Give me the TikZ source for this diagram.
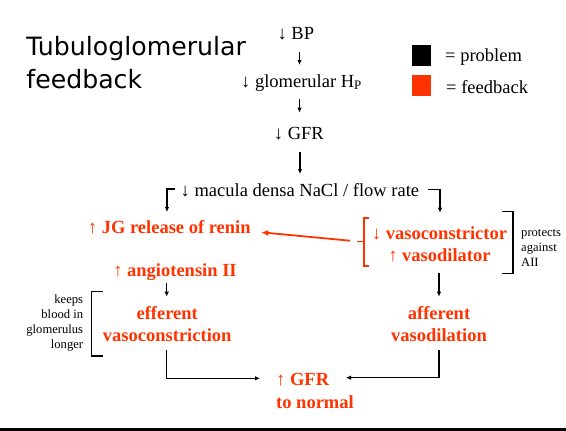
\documentclass[tikz,border=0pt]{standalone}
\usepackage{fontspec}
\setmainfont{Liberation Serif}
\newfontfamily\titlefont{DejaVu Sans}
\usetikzlibrary{arrows.meta,calc}
\definecolor{fbred}{RGB}{255,51,0}
\begin{document}
\begin{tikzpicture}[x=1pt,y=-1pt,
  body/.style={font=\fontsize{18.5}{22.4}\selectfont, inner sep=0pt, anchor=base, align=center},
  fb/.style={body, text=fbred, font=\fontsize{18.5}{22.4}\selectfont\bfseries},
  note/.style={font=\fontsize{12.6}{15}\selectfont, inner sep=0pt},
  arr/.style={draw=black, line width=1.2pt, -{Latex[length=5pt,width=4.5pt]}},
  redarr/.style={draw=fbred, line width=1.8pt, -{Latex[length=7pt,width=6pt]}},
  brk/.style={draw=black, line width=1.3pt},
  rbrk/.style={draw=fbred, line width=1.3pt},
  sq/.style={minimum width=19pt, minimum height=21pt, inner sep=0pt, anchor=north west}]
\useasboundingbox (0,0) rectangle (566,431);
\fill[black] (0,428) rectangle (566,431);

% title (base anchor of a multi-line node = last line)
\node[font=\titlefont\fontsize{25.2}{33.3}\selectfont, inner sep=0pt, anchor=base west, align=left] (title) at (26.2,88.3) {Tubuloglomerular\\feedback};

% legend
\node[sq, fill=black] (sqp) at (411.7,45) {};
\node[sq, fill=fbred] (sqf) at (411.7,75) {};
\node[body, anchor=base west] (lp) at (445,61.7) {= problem};
\node[body, anchor=base west] (lf) at (446,93.3) {= feedback};

% main chain
\coordinate (ax) at (299.5,0);
\node[body] (bp) at (295.8,39.3) {↓ BP};
\node[body] (glom) at (301.5,87.3) {↓ glomerular H\textsubscript{P}};
\node[body] (gfr) at (298.9,139.3) {↓ GFR};
\node[body] (mac) at (299.9,196) {↓ macula densa NaCl / flow rate};

\node[fb] (jg) at (169.3,233.3) {↑ JG release of renin};
\node[fb] (vc) at (439.5,261.7) {↓ vasoconstrictor\\↑ vasodilator};
\node[fb] (ang) at (175,276) {↑ angiotensin II};
\node[fb] (eff) at (167.2,341.7) {efferent\\vasoconstriction};
\node[fb] (aff) at (439,341.7) {afferent\\vasodilation};
\node[fb, anchor=base west, align=left] (gn) at (276,408.3) {↑ GFR\\to normal};

\node[note, anchor=base west, align=left] (prot) at (521,266.5) {protects\\against\\AII};
\node[note, anchor=base east, align=right] (keep) at (83.3,348.3) {keeps\\blood in\\glomerulus\\longer};

% connectors
\draw[arr] ($(bp.base -| ax)+(0,12.7)$) -- ($(glom.base -| ax)+(0,-22.3)$);
\draw[arr] ($(glom.base -| ax)+(0,11.7)$) -- ($(gfr.base -| ax)+(0,-26.6)$);
\draw[arr] ($(gfr.base -| ax)+(0.5,12.4)$) -- ($(mac.base -| ax)+(0.5,-22)$);
\draw[arr] ($(mac.base west)+(-6,-7)$) -| ($(jg.base)+(-2.3,-21.3)$);
\draw[arr] ($(mac.base east)+(9,-6.3)$) -| ($(vc.base)+(0.5,-49)$);
\draw[arr] ($(vc.base)+(-0.5,11.3)$) -- ($(aff.base)+(0,-45)$);
\draw[arr] ($(ang.base -| eff.base)+(-0.5,7.3)$) -- ($(eff.base)+(-0.5,-45)$);
\draw[arr] ($(eff.base)+(-0.5,8.3)$) |- ($(gn.base west)+(-16,-30)$);
\draw[arr] ($(aff.base)+(0,8.3)$) |- ($(gn.base west)+(70,-30.6)$);

% red bracket and arrow
\coordinate (rt) at (350,240.7);
\draw[rbrk] (369,218) -- (364,218) -- (364,266) -- (369,266);
\draw[rbrk] (364,241.5) -- (357,241.5);
\draw[redarr] (rt) -- ($(jg.base east)+(10.3,-1)$);

% black brackets
\draw[brk] (502,211.7) -- (513,211.7) -- (513,273.3) -- (502,273.3);
\draw[brk] (102.7,291.7) -- (91.7,291.7) -- (91.7,356) -- (102.7,356);
\end{tikzpicture}
\end{document}
